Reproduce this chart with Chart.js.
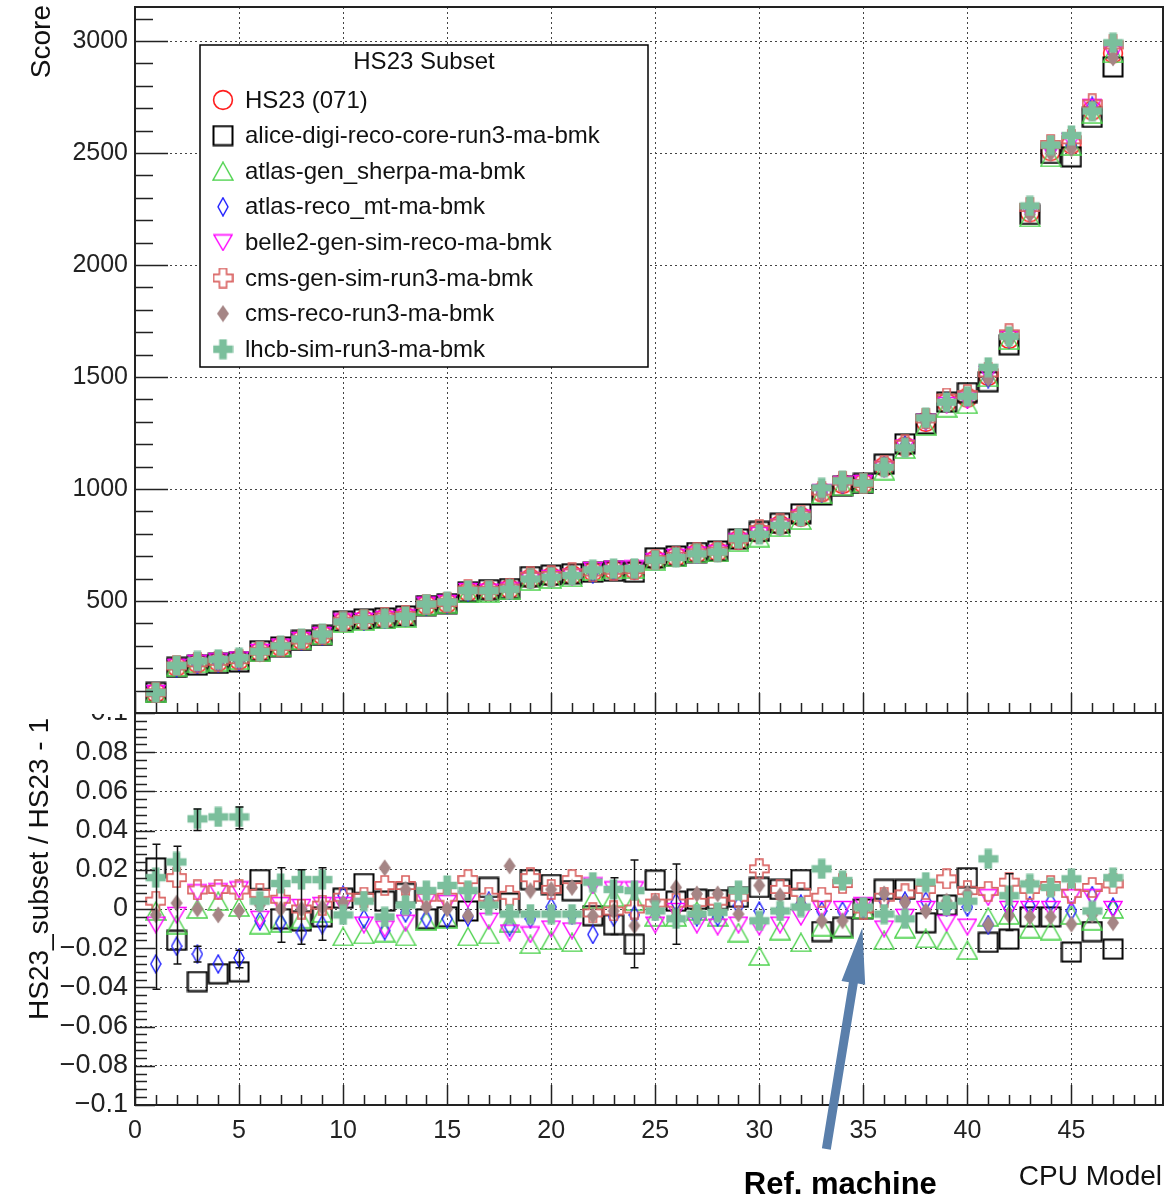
<!DOCTYPE html>
<html>
<head>
<meta charset="utf-8">
<script src="https://cdn.jsdelivr.net/npm/chart.js@4.4.1/dist/chart.umd.min.js"></script>
<style>
  html, body { margin: 0; padding: 0; background: #fff; }
  #wrap { position: relative; width: 1176px; height: 1198px; overflow: hidden; background: #fff; }
  #topChart { position: absolute; left: 0; top: 0; z-index: 2; background: #fff; }
  #ratioChart { position: absolute; left: 0; top: 690px; z-index: 1; }
</style>
</head>
<body>
<div id="wrap">
  <canvas id="topChart" width="1176" height="714"></canvas>
  <canvas id="ratioChart" width="1176" height="508"></canvas>
</div>
<script>
// ---- data ----
const cpuModels = [1, 2, 3, 4, 5, 6, 7, 8, 9, 10, 11, 12, 13, 14, 15, 16, 17, 18, 19, 20,
  21, 22, 23, 24, 25, 26, 27, 28, 29, 30, 31, 32, 33, 34, 35, 36, 37, 38, 39, 40,
  41, 42, 43, 44, 45, 46, 47];

const hs23Score = [90, 207, 222, 229, 236, 274, 296, 326, 348, 408, 415, 423, 430, 482, 490, 542, 545, 554, 600, 608,
  616, 631, 638, 640, 683, 698, 713, 720, 772, 802, 839, 876, 985, 1022, 1025, 1100, 1190, 1300, 1385, 1408,
  1505, 1670, 2235, 2508, 2539, 2690, 2945];

// subset / HS23 - 1
const aliceRatio = [0.021, -0.016, -0.037, -0.033, -0.032, 0.015, -0.005, -0.006, -0.004, 0.0055, 0.013, 0.004, 0.008, -0.005, -0.004, -0.001, 0.011, 0.003, 0.015, 0.0125,
  0.0094, -0.0034, -0.008, -0.018, 0.0147, 0.004, 0.005, 0.0048, 0.006, 0.011, 0.010, 0.015, -0.0115, -0.0094, 0.0, 0.010, 0.010, -0.007, 0.002, 0.016,
  -0.017, -0.0154, -0.004, -0.004, -0.022, -0.0115, -0.0205];
const atlasGenRatio = [-0.001, -0.008, 0.0, 0.004, 0.001, -0.008, -0.007, -0.005, -0.002, -0.014, -0.013, -0.012, -0.014, -0.006, -0.005, -0.014, -0.013, -0.007, -0.018, -0.016,
  -0.017, 0.005, 0.006, 0.004, -0.004, -0.004, -0.001, -0.004, -0.012, -0.024, -0.011, -0.017, -0.009, -0.010, 0.0, -0.016, -0.010, -0.015, -0.016, -0.021,
  -0.004, -0.003, -0.010, -0.011, -0.003, -0.006, 0.0];
const atlasRecoRatio = [-0.028, -0.019, -0.023, -0.028, -0.025, -0.006, -0.007, -0.012, -0.008, 0.007, -0.005, -0.011, -0.002, -0.005, -0.005, -0.004, 0.004, -0.009, -0.005, 0.001,
  -0.003, -0.013, -0.004, -0.003, -0.001, 0.0034, -0.004, -0.004, 0.0017, -0.001, -0.001, 0.0025, -0.001, -0.001, 0.0, 0.004, 0.004, 0.004, 0.001, 0.001,
  -0.008, 0.0, 0.0017, 0.0034, -0.001, 0.0068, 0.001];
const belle2Ratio = [-0.008, -0.003, 0.0085, 0.009, 0.010, -0.005, 0.002, 0.001, 0.002, 0.002, -0.008, -0.010, -0.007, 0.004, 0.003, 0.005, -0.006, -0.012, -0.013, -0.010,
  -0.011, 0.012, 0.010, 0.010, -0.008, -0.001, -0.008, -0.009, -0.008, -0.009, -0.008, -0.004, 0.0, 0.0, 0.002, -0.010, -0.004, 0.0, -0.007, -0.009,
  0.006, 0.0, 0.0, 0.0, 0.006, 0.006, 0.0];
const cmsGenRatio = [0.004, 0.016, 0.0097, 0.010, 0.0097, 0.008, 0.005, 0.0, 0.002, 0.006, 0.006, 0.012, 0.012, 0.006, 0.006, 0.015, 0.006, 0.007, 0.016, 0.010,
  0.015, -0.002, -0.001, 0.0, 0.003, 0.003, 0.0034, 0.004, 0.006, 0.0205, 0.010, 0.0085, 0.006, 0.013, 0.0, 0.006, 0.0077, 0.010, 0.0154, 0.0094,
  0.009, 0.0137, 0.010, 0.012, 0.008, 0.011, 0.0128];
const cmsRecoRatio = [-0.003, 0.003, 0.0, -0.003, -0.001, 0.002, 0.0, 0.0, 0.001, 0.003, 0.004, 0.021, 0.010, 0.001, 0.0, -0.0034, 0.004, 0.022, 0.0094, 0.010,
  0.011, -0.0034, -0.001, -0.0085, 0.004, 0.011, 0.0077, 0.0077, -0.0026, 0.012, 0.0068, 0.002, -0.006, -0.006, 0.0, 0.0077, 0.0034, -0.001, 0.004, 0.008,
  -0.008, -0.0034, -0.004, -0.004, -0.0077, -0.003, -0.007];
const lhcbRatio = [0.016, 0.024, 0.046, 0.047, 0.047, 0.004, 0.013, 0.015, 0.015, -0.003, 0.004, -0.004, 0.002, 0.0094, 0.012, 0.0094, 0.002, -0.0026, -0.0026, -0.0026,
  -0.0026, 0.0137, 0.010, 0.0094, -0.001, -0.005, -0.0026, -0.0017, 0.0094, -0.006, -0.001, 0.001, 0.0205, 0.0145, 0.001, -0.0026, -0.005, 0.0137, 0.0017, 0.004,
  0.0256, 0.0068, 0.0128, 0.011, 0.0154, -0.001, 0.016];

// [cpu model, low, high] of the visible error bars in the ratio panel
const ratioErrorBars = [[1, -0.041, 0.033], [2, -0.028, 0.032], [3, 0.040, 0.051], [3, -0.027, -0.019],
  [5, 0.041, 0.052], [5, -0.030, -0.021], [7, -0.017, 0.021], [8, -0.018, 0.020], [9, -0.016, 0.021],
  [23, -0.013, 0.016], [24, -0.030, 0.025], [26, -0.018, 0.023], [42, -0.011, 0.018]];

const scoreTicks = [500, 1000, 1500, 2000, 2500, 3000];
const ratioTicks = [-0.1, -0.08, -0.06, -0.04, -0.02, 0, 0.02, 0.04, 0.06, 0.08, 0.1];
const cpuTicks = [0, 5, 10, 15, 20, 25, 30, 35, 40, 45];

const refMachine = 35;

const seriesNames = ['HS23 (071)', 'alice-digi-reco-core-run3-ma-bmk', 'atlas-gen_sherpa-ma-bmk',
  'atlas-reco_mt-ma-bmk', 'belle2-gen-sim-reco-ma-bmk', 'cms-gen-sim-run3-ma-bmk',
  'cms-reco-run3-ma-bmk', 'lhcb-sim-run3-ma-bmk'];
const seriesRatios = [null, aliceRatio, atlasGenRatio, atlasRecoRatio, belle2Ratio, cmsGenRatio, cmsRecoRatio, lhcbRatio];

const FONT = "'Liberation Sans', Arial, Helvetica, sans-serif";

// ---- ROOT-like marker sprites ----
function sprite(w, h, draw) {
  const c = document.createElement('canvas');
  c.width = w; c.height = h;
  draw(c.getContext('2d'), w, h);
  return c;
}
function crossPath(g, s, t, inset) {
  const c = s / 2, a = inset, b = s - inset;
  g.beginPath();
  g.moveTo(c - t, a); g.lineTo(c + t, a); g.lineTo(c + t, c - t); g.lineTo(b, c - t);
  g.lineTo(b, c + t); g.lineTo(c + t, c + t); g.lineTo(c + t, b); g.lineTo(c - t, b);
  g.lineTo(c - t, c + t); g.lineTo(a, c + t); g.lineTo(a, c - t); g.lineTo(c - t, c - t);
  g.closePath();
}
const markers = [
  sprite(22, 22, g => { g.strokeStyle = '#ff1e1e'; g.lineWidth = 1.6; g.beginPath(); g.arc(11, 11, 9.4, 0, Math.PI * 2); g.stroke(); }),
  sprite(22, 22, g => { g.strokeStyle = '#000'; g.lineWidth = 2; g.strokeRect(1.5, 1.5, 19, 19); }),
  sprite(22, 20, g => { g.strokeStyle = '#4cd24c'; g.lineWidth = 1.4; g.beginPath(); g.moveTo(11, 1); g.lineTo(21, 19); g.lineTo(1, 19); g.closePath(); g.stroke(); }),
  sprite(12, 20, g => { g.strokeStyle = '#1a1aff'; g.lineWidth = 1.4; g.beginPath(); g.moveTo(6, 1); g.lineTo(11, 10); g.lineTo(6, 19); g.lineTo(1, 10); g.closePath(); g.stroke(); }),
  sprite(20, 18, g => { g.strokeStyle = '#ff00ff'; g.lineWidth = 1.4; g.beginPath(); g.moveTo(1, 1.5); g.lineTo(19, 1.5); g.lineTo(10, 17); g.closePath(); g.stroke(); }),
  sprite(21, 21, g => { g.strokeStyle = '#d9605f'; g.lineWidth = 1.6; crossPath(g, 21, 3.6, 1); g.stroke(); }),
  sprite(14, 18, g => { g.fillStyle = '#a58585'; g.beginPath(); g.moveTo(7, 0.5); g.lineTo(13, 9); g.lineTo(7, 17.5); g.lineTo(1, 9); g.closePath(); g.fill(); }),
  sprite(21, 21, g => { g.fillStyle = '#7bbf9c'; crossPath(g, 21, 3.8, 0.5); g.fill(); })
];

// ---- helpers ----
function drawRootAxes(chart, cfg) {
  const { ctx, chartArea: a } = chart;
  const xs = chart.scales.x, ys = chart.scales.y;
  ctx.save();
  ctx.strokeStyle = '#222';
  ctx.lineWidth = 1.5;
  ctx.beginPath();
  const per = Math.round(cfg.yMajor / cfg.yMinor);
  const kMin = Math.ceil(ys.min / cfg.yMinor - 1e-6), kMax = Math.floor(ys.max / cfg.yMinor + 1e-6);
  for (let k = kMin; k <= kMax; k++) {
    const p = Math.round(ys.getPixelForValue(k * cfg.yMinor)) + 0.5;
    const len = k % per === 0 ? cfg.yMajorLen : cfg.yMinorLen;
    ctx.moveTo(a.left, p); ctx.lineTo(a.left + len, p);
  }
  for (let k = 0; k <= Math.floor(xs.max); k++) {
    const p = Math.round(xs.getPixelForValue(k)) + 0.5;
    const len = k % 5 === 0 ? 20 : 10;
    ctx.moveTo(p, a.bottom); ctx.lineTo(p, a.bottom - len);
  }
  ctx.stroke();
  ctx.lineWidth = 2;
  ctx.strokeRect(a.left, a.top, a.right - a.left, a.bottom - a.top);
  ctx.restore();
}

function drawYTitle(ctx, text, x, yTop) {
  ctx.save();
  ctx.translate(x, yTop);
  ctx.rotate(-Math.PI / 2);
  ctx.font = '28px ' + FONT;
  ctx.fillStyle = '#111';
  ctx.textAlign = 'right';
  ctx.textBaseline = 'alphabetic';
  ctx.fillText(text, 0, 0);
  ctx.restore();
}

function fixAxis(width, height) {
  return scale => {
    if (width !== null) scale.width = width;
    if (height !== null) scale.height = height;
    scale.paddingTop = 0; scale.paddingBottom = 0;
    scale.paddingLeft = 0; scale.paddingRight = 0;
  };
}
function useTicks(values) {
  return scale => { scale.ticks = values.map(v => ({ value: v })); };
}

const topDecor = {
  id: 'topDecor',
  afterDraw(chart) {
    const { ctx, chartArea: a } = chart;
    drawRootAxes(chart, { yMajor: 500, yMinor: 100, yMajorLen: 33, yMinorLen: 18 });
    drawYTitle(ctx, 'Score', 50, a.top - 2);
    // legend box
    const bx = a.left + 65, by = a.top + 38, bw = 448, bh = 322;
    ctx.save();
    ctx.fillStyle = '#fff';
    ctx.fillRect(bx, by, bw, bh);
    ctx.lineWidth = 1.5;
    ctx.strokeStyle = '#000';
    ctx.strokeRect(bx, by, bw, bh);
    ctx.fillStyle = '#111';
    ctx.font = '24px ' + FONT;
    ctx.textAlign = 'center';
    ctx.textBaseline = 'middle';
    ctx.fillText('HS23 Subset', bx + bw / 2, by + 17);
    ctx.textAlign = 'left';
    chart.data.datasets.forEach((ds, i) => {
      const yy = by + 55 + i * 35.6;
      Chart.helpers.drawPoint(ctx, { pointStyle: ds.pointStyle, radius: 10, rotation: 0 }, bx + 23, yy);
      ctx.fillText(ds.label, bx + 45, yy + 1);
    });
    ctx.restore();
  }
};

const ratioDecor = {
  id: 'ratioDecor',
  afterDatasetsDraw(chart) {
    const { ctx } = chart;
    const xs = chart.scales.x, ys = chart.scales.y;
    ctx.save();
    ctx.strokeStyle = '#111';
    ctx.lineWidth = 1.5;
    ctx.beginPath();
    ratioErrorBars.forEach(([cx, lo, hi]) => {
      const px = Math.round(xs.getPixelForValue(cx)) + 0.5;
      const y1 = ys.getPixelForValue(lo), y2 = ys.getPixelForValue(hi);
      ctx.moveTo(px, y1); ctx.lineTo(px, y2);
      ctx.moveTo(px - 4, y1); ctx.lineTo(px + 4, y1);
      ctx.moveTo(px - 4, y2); ctx.lineTo(px + 4, y2);
    });
    ctx.stroke();
    ctx.restore();
  },
  afterDraw(chart) {
    const { ctx, chartArea: a } = chart;
    const xs = chart.scales.x, ys = chart.scales.y;
    drawRootAxes(chart, { yMajor: 0.02, yMinor: 0.004, yMajorLen: 20, yMinorLen: 12 });
    drawYTitle(ctx, 'HS23_subset / HS23 - 1', 48, a.top + 5);

    ctx.save();
    ctx.fillStyle = '#111';
    ctx.font = '28px ' + FONT;
    ctx.textAlign = 'right';
    ctx.textBaseline = 'alphabetic';
    ctx.fillText('CPU Model', a.right - 1, a.bottom + 80);

    // arrow to the reference machine
    const tipX = xs.getPixelForValue(refMachine) - 1, tipY = ys.getPixelForValue(-0.0095);
    const tailX = tipX - 36, tailY = a.bottom + 44;
    const dx = tipX - tailX, dy = tipY - tailY, L = Math.hypot(dx, dy);
    const ux = dx / L, uy = dy / L, nx = -uy, ny = ux;
    const headLen = 56, headHalf = 12, shaftHalf = 4.5;
    const bxp = tipX - ux * headLen, byp = tipY - uy * headLen;
    ctx.fillStyle = '#5a7fab';
    ctx.beginPath();
    ctx.moveTo(tailX + nx * shaftHalf, tailY + ny * shaftHalf);
    ctx.lineTo(bxp + nx * shaftHalf, byp + ny * shaftHalf);
    ctx.lineTo(bxp + nx * headHalf, byp + ny * headHalf);
    ctx.lineTo(tipX, tipY);
    ctx.lineTo(bxp - nx * headHalf, byp - ny * headHalf);
    ctx.lineTo(bxp - nx * shaftHalf, byp - ny * shaftHalf);
    ctx.lineTo(tailX - nx * shaftHalf, tailY - ny * shaftHalf);
    ctx.closePath();
    ctx.fill();

    ctx.fillStyle = '#000';
    ctx.font = 'bold 31px ' + FONT;
    ctx.textAlign = 'center';
    ctx.fillText('Ref. machine', tipX - 22, a.bottom + 89);
    ctx.restore();
  }
};

function points(values) {
  return cpuModels.map((c, i) => ({ x: c, y: values[i] }));
}

// ---- top panel: scores ----
const scoreDatasets = seriesNames.map((name, s) => {
  const r = seriesRatios[s];
  const vals = r ? hs23Score.map((v, i) => v * (1 + r[i])) : hs23Score;
  return {
    label: name,
    data: points(vals),
    pointStyle: markers[s],
    pointRadius: 10,
    showLine: false,
    order: seriesNames.length - 1 - s
  };
});

const gridCommon = { color: '#444', lineWidth: 1, drawTicks: false };
const borderCommon = { display: false, dash: [2, 3] };

new Chart(document.getElementById('topChart'), {
  type: 'scatter',
  data: { datasets: scoreDatasets },
  options: {
    responsive: false,
    animation: false,
    devicePixelRatio: 1,
    events: [],
    layout: { autoPadding: false, padding: { top: 7, right: 13, bottom: 1, left: 0 } },
    plugins: { legend: { display: false }, tooltip: { enabled: false } },
    scales: {
      x: {
        type: 'linear', min: 0, max: 49.4,
        grid: gridCommon, border: borderCommon,
        ticks: { display: false },
        afterBuildTicks: useTicks(cpuTicks),
        afterFit: fixAxis(null, 0)
      },
      y: {
        type: 'linear', min: 0, max: 3152,
        grid: gridCommon, border: borderCommon,
        ticks: {
          padding: 7, color: '#222',
          font: { family: FONT, size: 25 },
          callback: v => String(v)
        },
        afterBuildTicks: useTicks(scoreTicks),
        afterFit: fixAxis(135, null)
      }
    }
  },
  plugins: [topDecor]
});

// ---- bottom panel: ratios ----
const ratioDatasets = seriesNames.slice(1).map((name, k) => ({
  label: name,
  data: points(seriesRatios[k + 1]),
  pointStyle: markers[k + 1],
  pointRadius: 10,
  showLine: false,
  order: seriesNames.length - 2 - k
}));

new Chart(document.getElementById('ratioChart'), {
  type: 'scatter',
  data: { datasets: ratioDatasets },
  options: {
    responsive: false,
    animation: false,
    devicePixelRatio: 1,
    events: [],
    layout: { autoPadding: false, padding: { top: 23, right: 13, bottom: 0, left: 0 } },
    plugins: { legend: { display: false }, tooltip: { enabled: false } },
    scales: {
      x: {
        type: 'linear', min: 0, max: 49.4,
        grid: gridCommon, border: borderCommon,
        ticks: {
          padding: 11, color: '#222',
          maxRotation: 0, autoSkip: false,
          font: { family: FONT, size: 25 },
          callback: v => String(v)
        },
        afterBuildTicks: useTicks(cpuTicks),
        afterFit: fixAxis(null, 93)
      },
      y: {
        type: 'linear', min: -0.1, max: 0.1,
        grid: gridCommon, border: borderCommon,
        ticks: {
          padding: 7, color: '#222',
          font: { family: FONT, size: 27 },
          callback: v => {
            const t = Number(v.toFixed(2));
            return t === 0 ? '0' : String(t).replace('-', '\u2212');
          }
        },
        afterBuildTicks: useTicks(ratioTicks),
        afterFit: fixAxis(135, null)
      }
    }
  },
  plugins: [ratioDecor]
});
</script>
</body>
</html>
